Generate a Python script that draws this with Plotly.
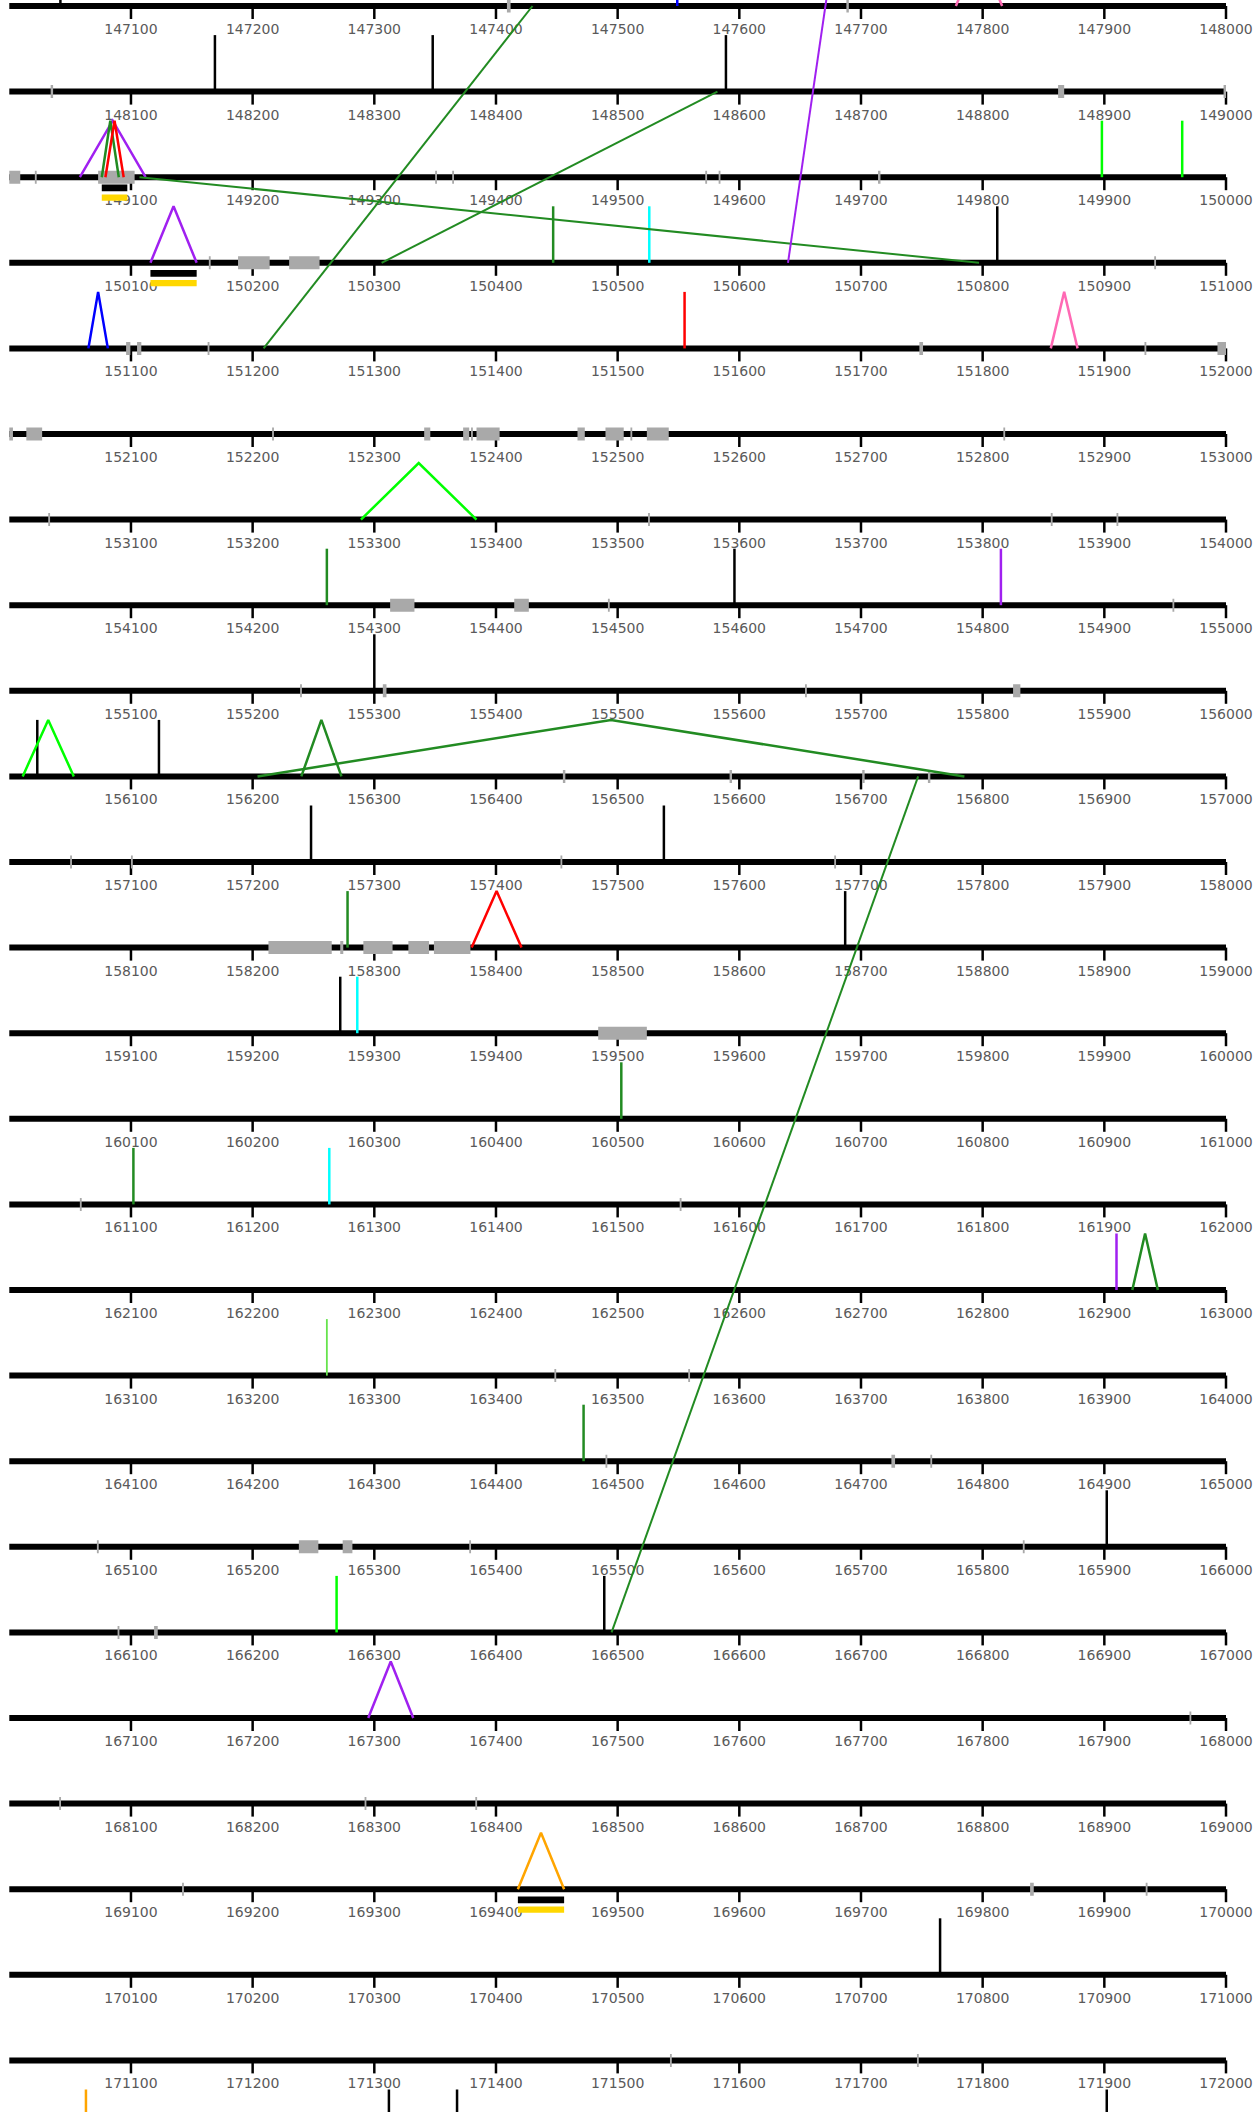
import plotly.graph_objects as go

# genome window: one row per 1000 bp
ROW_START = 147000
ROW_LEN = 1000
N_ROWS = 25
ROW_GAP = 85.6
TOP_PAD = 6
MARK_H = 56.5

# vertical site marks, by colour
black_sites = [147042, 148169, 148348, 148589, 150812, 154596, 155300, 156023, 156123,
               157248, 157538, 158687, 159272, 165902, 166489, 170765, 172312, 172368, 172902]
darkgreen_sites = [150447, 154261, 158278, 160503, 161102, 164472]
lime_sites = [149898, 149964, 166269]
lightgreen_sites = [163261]
red_sites = [151555]
blue_sites = [147549]
cyan_sites = [150526, 159286, 161263]
purple_sites = [154815, 162910]
orange_sites = [172063]

# junction arcs drawn as peaks: start, end, colour
arc_start = [147778, 149058, 149076, 149079, 150116, 151065, 151856, 153289, 156011,
             156240, 156204, 158380, 162923, 167295, 169418]
arc_end = [147816, 149112, 149090, 149094, 150154, 151081, 151878, 153384, 156053,
           156273, 156785, 158421, 162944, 167332, 169456]
arc_color = ["#ff69b4", "#a020f0", "#228b22", "#ff0000", "#a020f0", "#0000ff", "#ff69b4",
             "#00ff00", "#00ff00", "#228b22", "#228b22", "#ff0000", "#228b22", "#a020f0",
             "#ffa500"]

# long links between rows
link_start = [147430, 148582, 149107, 156747, 146681]
link_end = [151209, 150306, 150797, 166495, 150640]
link_color = ["#228b22", "#228b22", "#228b22", "#228b22", "#a020f0"]

# grey features on the axis
box_start = [147409, 147688, 148034, 148862, 148998, 149000, 149021, 149073, 149350, 149364,
             149572, 149583, 149714, 150164, 150188, 150230, 150941, 151096, 151105, 151163,
             151748, 151933, 151993, 152000, 152014, 152216, 152341, 152373, 152379.5, 152384,
             152467, 152490, 152510.5, 152524, 152817, 153032, 153525, 153856, 153910, 154313,
             154415, 154492, 154956, 155239, 155307, 155654, 155825, 156455, 156592, 156701,
             156755, 157050, 157100, 157453, 157678, 158213, 158272, 158291, 158328, 158349,
             159484, 161058, 161551, 163448, 163558, 164490, 164725, 164757, 165072, 165238,
             165274, 165378, 165833, 166089, 166119, 167970, 168041, 168292, 168383, 169142,
             169839, 169934, 171543, 171746]
box_end = [147412, 147690, 148036, 148867, 149000, 149009, 149022.5, 149103, 149351.5, 149365.5,
           149573.5, 149584.5, 149716, 150165.5, 150214, 150255, 150942.5, 151099.5, 151108.5,
           151164.5, 151751, 151934.5, 152000, 152003, 152027, 152217.5, 152346, 152378, 152381,
           152403, 152473, 152505, 152512, 152542, 152818.5, 153033.5, 153526.5, 153857.5,
           153911.5, 154333, 154427, 154493.5, 154957.5, 155240.5, 155310, 155655.5, 155831,
           156457, 156594, 156703, 156757, 157051.5, 157101.5, 157454.5, 157679.5, 158265,
           158274.5, 158315, 158345, 158379, 159524, 161059.5, 161552.5, 163449.5, 163559.5,
           164491.5, 164728, 164758.5, 165073.5, 165254, 165282, 165379.5, 165834.5, 166090.5,
           166122, 167971.5, 168042.5, 168293.5, 168384.5, 169143.5, 169842, 169935.5,
           171544.5, 171747.5]

# black / yellow bars under the axis
bar_start = [149076, 150116, 169418]
bar_end = [149097, 150154, 169456]

tick_step = 100


def base_y(r):
    return -(TOP_PAD + ROW_GAP * r)


def local(p):
    # position inside its row, and the row index
    r = int((p - ROW_START) // ROW_LEN)
    return p - ROW_START - ROW_LEN * r, r


fig = go.Figure()

# tick marks, baselines, labels
tx, ty = [], []
bx, by = [], []
lx, ly, lt = [], [], []
for r in range(N_ROWS):
    y0 = base_y(r)
    bx += [0, ROW_LEN, None]
    by += [y0, y0, None]
    for k in range(tick_step, ROW_LEN + 1, tick_step):
        tx += [k, k, None]
        ty += [y0, y0 - 13, None]
        lx.append(k)
        ly.append(y0 - 24.5)
        lt.append(str(ROW_START + ROW_LEN * r + k))

fig.add_trace(go.Scatter(x=tx, y=ty, mode="lines", line=dict(color="black", width=2.5)))
fig.add_trace(go.Scatter(x=bx, y=by, mode="lines", line=dict(color="black", width=6)))
fig.add_trace(go.Scatter(x=lx, y=ly, mode="text", text=lt,
                         textfont=dict(family="DejaVu Sans", size=14, color="#5a5a5a")))

# grey boxes on the axis
gx, gy = [], []
for s, e in zip(box_start, box_end):
    a, r = local(s)
    b = a + (e - s)
    y0 = base_y(r)
    gx += [a, b, b, a, a, None]
    gy += [y0 - 6.5, y0 - 6.5, y0 + 6.5, y0 + 6.5, y0 - 6.5, None]
fig.add_trace(go.Scatter(x=gx, y=gy, mode="lines", fill="toself", fillcolor="#a9a9a9",
                         line=dict(width=0, color="#a9a9a9")))

# bars under the axis
for off, col in [((7.3, 14), "black"), ((17.3, 23.5), "#ffd700")]:
    px_, py_ = [], []
    for s, e in zip(bar_start, bar_end):
        a, r = local(s)
        b = a + (e - s)
        y0 = base_y(r)
        px_ += [a, b, b, a, a, None]
        py_ += [y0 - off[0], y0 - off[0], y0 - off[1], y0 - off[1], y0 - off[0], None]
    fig.add_trace(go.Scatter(x=px_, y=py_, mode="lines", fill="toself", fillcolor=col,
                             line=dict(width=0, color=col)))

# vertical site marks
for sites, col, w in [(black_sites, "black", 2.5), (darkgreen_sites, "#228b22", 2.5),
                      (lime_sites, "#00ff00", 2.5), (lightgreen_sites, "#66e34d", 1.8),
                      (red_sites, "#ff0000", 2.5), (blue_sites, "#0000ff", 2.5),
                      (cyan_sites, "#00ffff", 2.5), (purple_sites, "#a020f0", 2.5),
                      (orange_sites, "#ffa500", 2.5)]:
    vx, vy = [], []
    for p in sites:
        a, r = local(p)
        y0 = base_y(r)
        vx += [a, a, None]
        vy += [y0, y0 + MARK_H, None]
    fig.add_trace(go.Scatter(x=vx, y=vy, mode="lines", line=dict(color=col, width=w)))

# arcs
for s, e, col in zip(arc_start, arc_end, arc_color):
    a, r = local(s)
    b = a + (e - s)
    y0 = base_y(r)
    fig.add_trace(go.Scatter(x=[a, (a + b) / 2, b], y=[y0, y0 + MARK_H, y0], mode="lines",
                             line=dict(color=col, width=2.5)))

# links between rows
for s, e, col in zip(link_start, link_end, link_color):
    a, r1 = local(s)
    b, r2 = local(e)
    fig.add_trace(go.Scatter(x=[a, b], y=[base_y(r1), base_y(r2)], mode="lines",
                             line=dict(color=col, width=2)))

W, H = 1254, 2112
px_per_bp = 1.2167
x0 = -9.3 / px_per_bp
fig.update_layout(width=W, height=H, margin=dict(l=0, r=0, t=0, b=0),
                  showlegend=False, plot_bgcolor="white", paper_bgcolor="white",
                  xaxis=dict(range=[x0, x0 + W / px_per_bp], visible=False, fixedrange=True),
                  yaxis=dict(range=[-H, 0], visible=False, fixedrange=True))

fig.write_html("out.html", config={"displayModeBar": False},
               post_script="document.body.style.margin='0';document.body.style.overflow='hidden';")
